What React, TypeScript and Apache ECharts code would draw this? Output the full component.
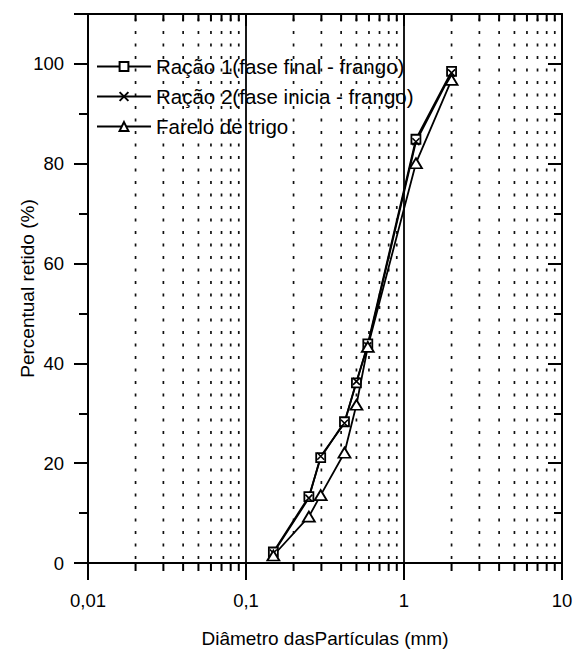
import React, { useEffect, useRef } from 'react';
import * as echarts from 'echarts';

// ---- data ----
const diameters = [0.149, 0.25, 0.297, 0.42, 0.5, 0.59, 1.19, 2.0];
const racao1 = [2.2, 13.3, 21.1, 28.3, 36.1, 43.9, 84.9, 98.5];
const racao2 = [2.0, 13.0, 21.4, 28.0, 36.4, 43.5, 84.4, 98.2];
const farelo = [1.5, 9.3, 13.6, 22.1, 31.7, 43.3, 80.1, 96.8];
const seriesNames = [
  'Ração 1(fase final - frango)',
  'Ração 2(fase inicia - frango)',
  'Farelo de trigo',
];
const minorDiameters = [
  0.02, 0.03, 0.04, 0.05, 0.06, 0.07, 0.08, 0.09,
  0.2, 0.3, 0.4, 0.5, 0.6, 0.7, 0.8, 0.9,
  2, 3, 4, 5, 6, 7, 8, 9,
];
const X_MIN = 0.01;
const X_MAX = 10;
const Y_MIN = 0;
const Y_MAX = 110;
const Y_INTERVAL = 20;

const FONT = '"Liberation Sans", Arial, Helvetica, sans-serif';

const pairs = (ys: number[]) => diameters.map((d, i) => [d, ys[i]]);

export default function App() {
  const ref = useRef<HTMLDivElement>(null);

  useEffect(() => {
    if (!ref.current) return;
    const chart = echarts.init(ref.current, null, { renderer: 'svg' });

    const fmtX = (v: number) => String(Number(Number(v).toPrecision(6))).replace('.', ',');

    const lineCommon = {
      type: 'line',
      xAxisIndex: 0,
      yAxisIndex: 0,
      lineStyle: { color: '#000', width: 1.8 },
      z: 5,
    };

    const option: any = {
      animation: false,
      backgroundColor: '#fff',
      textStyle: { fontFamily: FONT, color: '#000' },
      grid: { left: 88, right: 14, top: 14, bottom: 91, containLabel: false },
      legend: {
        data: seriesNames,
        orient: 'vertical',
        left: 96,
        top: 56,
        itemWidth: 54,
        itemHeight: 11,
        itemGap: 9,
        textStyle: { fontFamily: FONT, fontSize: 20.5, color: '#000', lineHeight: 20, padding: [0, 0, 0, 0] },
        backgroundColor: 'transparent',
        padding: 0,
      },
      xAxis: [
        {
          type: 'log',
          logBase: 10,
          min: X_MIN,
          max: X_MAX,
          position: 'bottom',
          name: 'Diâmetro dasPartículas (mm)',
          nameLocation: 'middle',
          nameGap: 66,
          nameMoveOverlap: false,
          nameTextStyle: { fontFamily: FONT, fontSize: 19, color: '#000', verticalAlign: 'top' },
          axisLine: { show: true, onZero: false, lineStyle: { color: '#000', width: 2 } },
          axisTick: { show: true, inside: false, length: 17, lineStyle: { color: '#000', width: 2 } },
          axisLabel: { show: true, margin: 28, fontFamily: FONT, fontSize: 18.5, color: '#000', formatter: fmtX },
          splitLine: { show: true, lineStyle: { color: '#000', width: 1.8 } },
        },
        {
          type: 'log',
          logBase: 10,
          min: X_MIN,
          max: X_MAX,
          position: 'top',
          axisLine: { show: true, onZero: false, lineStyle: { color: '#000', width: 2 } },
          axisTick: { show: true, inside: true, length: 12, lineStyle: { color: '#000', width: 2 } },
          axisLabel: { show: false },
          splitLine: { show: false },
        },
      ],
      yAxis: [
        {
          type: 'value',
          min: Y_MIN,
          max: Y_MAX,
          interval: Y_INTERVAL,
          position: 'left',
          name: 'Percentual retido (%)',
          nameLocation: 'middle',
          nameGap: 51,
          nameMoveOverlap: false,
          nameTextStyle: { fontFamily: FONT, fontSize: 19, color: '#000' },
          axisLine: { show: true, onZero: false, lineStyle: { color: '#000', width: 2 } },
          axisTick: { show: true, inside: false, length: 14, lineStyle: { color: '#000', width: 2 } },
          minorTick: { show: true, splitNumber: 2, length: 9, lineStyle: { color: '#000', width: 2 } },
          axisLabel: {
            show: true,
            margin: 24,
            fontFamily: FONT,
            fontSize: 18.5,
            color: '#000',
            formatter: (v: number) => (v > 100 ? '' : String(v)),
          },
          splitLine: { show: false },
        },
        {
          type: 'value',
          min: Y_MIN,
          max: Y_MAX,
          interval: Y_INTERVAL,
          position: 'right',
          axisLine: { show: true, onZero: false, lineStyle: { color: '#000', width: 2 } },
          axisTick: { show: true, inside: true, length: 14, lineStyle: { color: '#000', width: 2 } },
          minorTick: { show: true, splitNumber: 2, length: 8, lineStyle: { color: '#000', width: 2 } },
          axisLabel: { show: false },
          splitLine: { show: false },
        },
      ],
      series: [
        {
          name: 'minorGrid',
          type: 'custom',
          xAxisIndex: 0,
          yAxisIndex: 0,
          silent: true,
          clip: false,
          z: 1,
          data: minorDiameters.map((d) => [d, Y_MIN]),
          encode: { x: 0, y: 1 },
          renderItem: (_params: any, api: any) => {
            const v = api.value(0);
            const b = api.coord([v, Y_MIN]);
            const t = api.coord([v, Y_MAX]);
            return {
              type: 'group',
              children: [
                {
                  type: 'line',
                  shape: { x1: b[0], y1: b[1] - 4, x2: t[0], y2: t[1] },
                  style: { stroke: '#111', lineWidth: 1.7, lineDash: [3, 9.5] },
                },
                {
                  type: 'line',
                  shape: { x1: b[0], y1: b[1], x2: b[0], y2: b[1] + 8 },
                  style: { stroke: '#000', lineWidth: 2 },
                },
                {
                  type: 'line',
                  shape: { x1: t[0], y1: t[1], x2: t[0], y2: t[1] + 7 },
                  style: { stroke: '#000', lineWidth: 2 },
                },
              ],
            };
          },
        },
        {
          ...lineCommon,
          name: seriesNames[0],
          data: pairs(racao1),
          symbol: 'rect',
          symbolSize: 9,
          itemStyle: { color: '#fff', borderColor: '#000', borderWidth: 1.8 },
        },
        {
          ...lineCommon,
          name: seriesNames[1],
          data: pairs(racao2),
          symbol: 'path://M0 0L10 10M10 0L0 10',
          symbolSize: 7,
          itemStyle: { color: 'none', borderColor: '#000', borderWidth: 1.6 },
        },
        {
          ...lineCommon,
          name: seriesNames[2],
          data: pairs(farelo),
          symbol: 'triangle',
          symbolSize: [12, 10],
          itemStyle: { color: '#fff', borderColor: '#000', borderWidth: 1.8 },
        },
      ],
    };

    chart.setOption(option);
    return () => {
      chart.dispose();
    };
  }, []);

  return (
    <div
      ref={ref}
      style={{ position: 'absolute', left: 0, top: 0, width: 576, height: 654, background: '#fff' }}
    />
  );
}
